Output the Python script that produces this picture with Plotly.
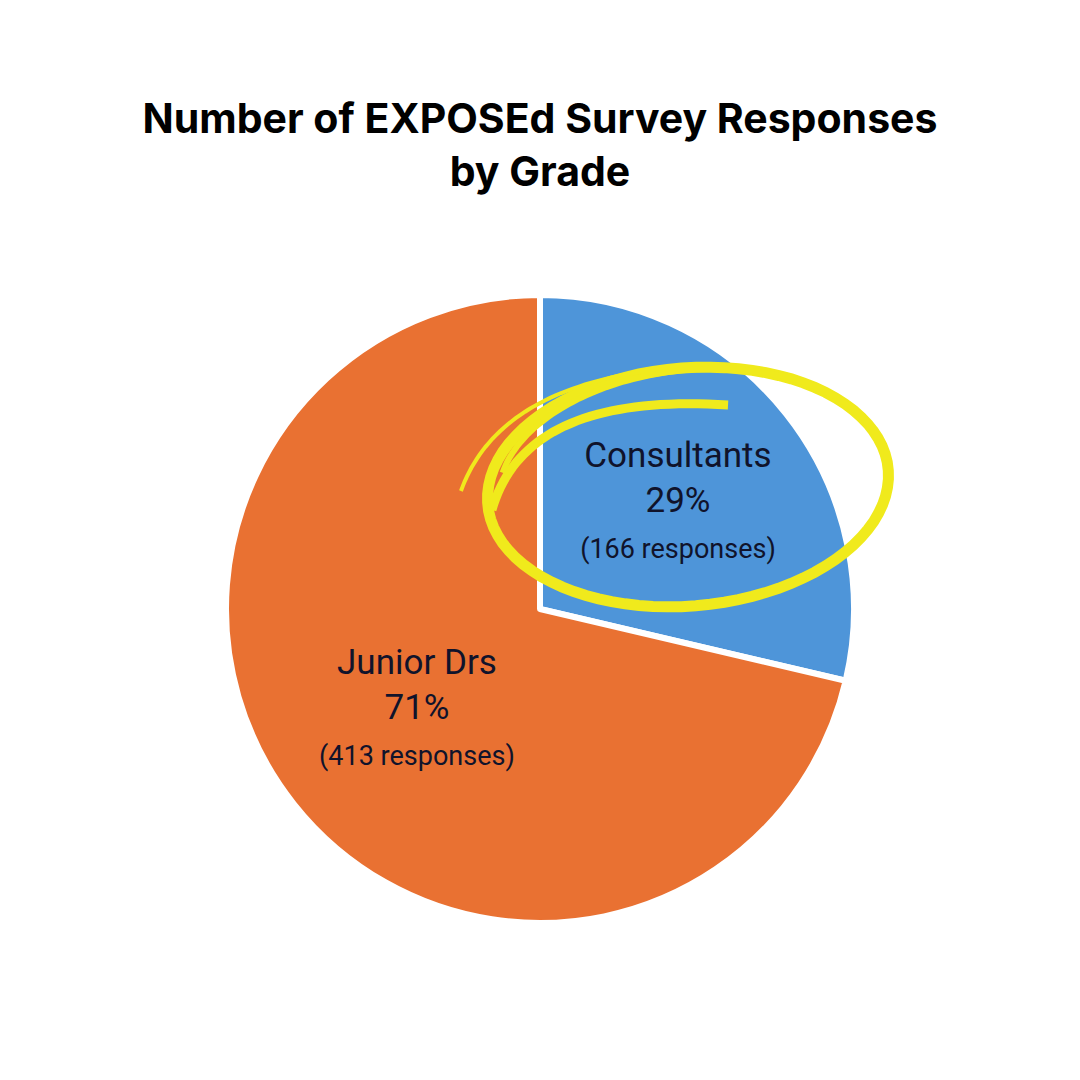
import numpy as np
import plotly.graph_objects as go

# survey responses by grade
grades = ["Consultants", "Junior Drs"]
responses = [166, 413]
slice_colours = ["#4E95D9", "#E97132"]

W = H = 1080
OFF = 8  # page body margin shifts the figure by 8px
YELLOW = "#F0EA1C"


def px(x, y):
    # screen pixel -> paper coords (margins are zero)
    return (x - OFF) / W, 1 - (y - OFF) / H


def ellipse_path(cx, cy, a, b, tilt, t0, t1, n=90):
    t = np.linspace(t0, t1, n)
    c, s = np.cos(np.radians(tilt)), np.sin(np.radians(tilt))
    xs = cx + a * np.cos(t) * c - b * np.sin(t) * s
    ys = cy + a * np.cos(t) * s + b * np.sin(t) * c
    pts = [px(x, y) for x, y in zip(xs, ys)]
    return "M " + " L ".join(f"{x:.4f},{y:.4f}" for x, y in pts)


def bezier_path(p0, p1, p2, n=40):
    t = np.linspace(0, 1, n)[:, None]
    p0, p1, p2 = map(np.array, (p0, p1, p2))
    pts = (1 - t) ** 2 * p0 + 2 * (1 - t) * t * p1 + t ** 2 * p2
    pts = [px(x, y) for x, y in pts]
    return "M " + " L ".join(f"{x:.4f},{y:.4f}" for x, y in pts)


cx, cy = px(540, 609)
r = 314 / W
fig = go.Figure(go.Pie(
    labels=grades,
    values=responses,
    sort=False,
    direction="clockwise",
    rotation=0,
    marker=dict(colors=slice_colours, line=dict(color="white", width=6)),
    texttemplate="%{label}<br>%{percent:.0%}<br><span style='font-size:27px'>(%{value} responses)</span>",
    textposition="inside",
    insidetextorientation="horizontal",
    textfont=dict(family="Roboto", size=35, color="#10132B"),
    hoverinfo="label+value+percent",
    showlegend=False,
    domain=dict(x=[cx - r, cx + r], y=[cy - r, cy + r]),
))

# hand-drawn yellow highlight round the consultants label
strokes = [
    (ellipse_path(688, 487, 201, 119, -5, np.radians(-20), np.radians(345)), 11),
    (ellipse_path(692, 482, 194, 112, -6, np.radians(-165), np.radians(-15)), 6),
    (bezier_path((728, 405), (525, 392), (492, 510)), 9),
    (bezier_path((461, 491), (495, 395), (640, 372)), 4),
]
shapes = [dict(type="path", path=p, xref="paper", yref="paper",
               line=dict(color=YELLOW, width=w)) for p, w in strokes]

tx, ty = px(540, 133)
fig.update_layout(
    width=W, height=H,
    margin=dict(l=0, r=0, t=0, b=0),
    paper_bgcolor="white",
    plot_bgcolor="white",
    shapes=shapes,
    title=dict(
        text="Number of EXPOSEd Survey Responses<br>by Grade",
        x=tx, xanchor="center",
        y=ty, yanchor="top",
        font=dict(family="Inter", size=41, color="black", weight=700),
    ),
)

fig.write_html("out.html")
